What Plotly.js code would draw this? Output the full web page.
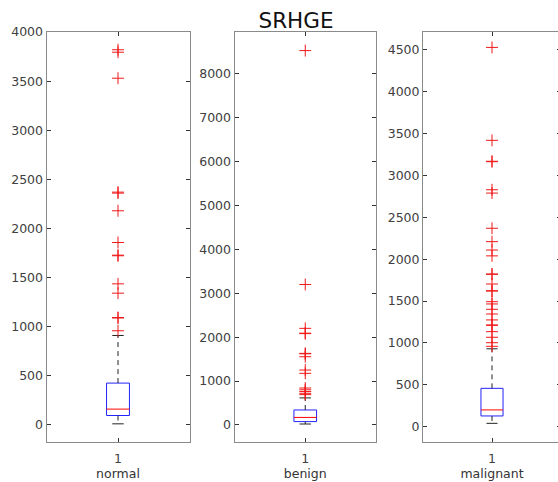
<!DOCTYPE html>
<html>
<head>
<meta charset="utf-8">
<script src="https://cdn.plot.ly/plotly-3.0.1.min.js"></script>
<style>
html,body{margin:0;padding:0;background:#fff;overflow:hidden;}
#chart{width:570px;height:482px;}
</style>
</head>
<body>
<div id="chart"></div>
<script>
// ---- data ----
const categories = ['normal', 'benign', 'malignant'];
const xTickLabels = ['1'];
const q1 = [95, 75, 128];
const medians = [160, 170, 200];
const q3 = [425, 340, 458];
const lowerWhisker = [10, 20, 40];
const upperWhisker = [910, 615, 930];
const outliersNormal = [3820, 3795, 3530, 2370, 2360, 2180, 1857, 1728, 1722, 1436, 1341, 1093, 1088, 958];
const outliersBenign = [8530, 3200, 2200, 2090, 2080, 1630, 1620, 1553, 1250, 1175, 840, 800, 760, 720, 690];
const outliersMalignant = [4530, 3420, 3170, 3165, 2830, 2790, 2370, 2210, 2110, 2040, 1824, 1820, 1704, 1624, 1620,
  1493, 1466, 1402, 1346, 1275, 1215, 1210, 1135, 1068, 1003, 960];
const yTicks = [
  [0, 500, 1000, 1500, 2000, 2500, 3000, 3500, 4000],
  [0, 1000, 2000, 3000, 4000, 5000, 6000, 7000, 8000],
  [0, 500, 1000, 1500, 2000, 2500, 3000, 3500, 4000, 4500]
];
const titleText = 'SRHGE';

// ---- styling / layout ----
const W = 570, H = 482;
const panelsPx = [[46.5, 189.5], [234.5, 376], [423, 561]];
const yRanges = [[-175, 4006], [-390, 8965], [-183, 4720]];
const yDomain = [(H - 442) / H, (H - 31.5) / H];
const outliers = [outliersNormal, outliersBenign, outliersMalignant];
const bw = 0.08, cw = 0.04;
const fontFam = '"DejaVu Sans", "Liberation Sans", Arial, sans-serif';

const traces = [];
const layout = {
  width: W, height: H,
  margin: {l: 0, r: 0, t: 0, b: 0},
  paper_bgcolor: '#fff', plot_bgcolor: '#fff',
  showlegend: false,
  font: {family: fontFam, color: '#404040', size: 12.5},
  title: {
    text: titleText, x: 296 / W, xanchor: 'center', xref: 'paper',
    y: 1 - 20 / H, yanchor: 'middle', yref: 'paper',
    font: {family: fontFam, size: 21.5, color: '#111'}
  }
};

for (let i = 0; i < 3; i++) {
  const sfx = i === 0 ? '' : String(i + 1);
  const xa = 'x' + sfx, ya = 'y' + sfx;
  const c = 1;
  // box
  traces.push({
    type: 'scatter', mode: 'lines', xaxis: xa, yaxis: ya, hoverinfo: 'skip',
    x: [c - bw, c + bw, c + bw, c - bw, c - bw],
    y: [q1[i], q1[i], q3[i], q3[i], q1[i]],
    line: {color: '#2222ff', width: 1}
  });
  // whiskers (dashed)
  traces.push({
    type: 'scatter', mode: 'lines', xaxis: xa, yaxis: ya, hoverinfo: 'skip',
    x: [c, c, null, c, c],
    y: [q3[i], upperWhisker[i], null, q1[i], lowerWhisker[i]],
    line: {color: '#222', width: 1, dash: '5px,4px'}
  });
  // caps
  traces.push({
    type: 'scatter', mode: 'lines', xaxis: xa, yaxis: ya, hoverinfo: 'skip',
    x: [c - cw, c + cw, null, c - cw, c + cw],
    y: [upperWhisker[i], upperWhisker[i], null, lowerWhisker[i], lowerWhisker[i]],
    line: {color: '#222', width: 1}
  });
  // median
  traces.push({
    type: 'scatter', mode: 'lines', xaxis: xa, yaxis: ya, hoverinfo: 'skip',
    x: [c - bw, c + bw],
    y: [medians[i], medians[i]],
    line: {color: '#ff0000', width: 1}
  });
  // outliers
  traces.push({
    type: 'scatter', mode: 'markers', xaxis: xa, yaxis: ya,
    x: outliers[i].map(() => c),
    y: outliers[i],
    marker: {symbol: 'cross-thin-open', size: 8.5, color: '#f01818', line: {color: '#f01818', width: 1}}
  });

  const axCommon = {
    showline: true, linecolor: '#8a8a8a', linewidth: 1,
    mirror: 'ticks', ticks: 'inside', ticklen: 4, tickwidth: 1, tickcolor: '#333',
    showgrid: false, zeroline: false, fixedrange: true,
    tickfont: {family: fontFam, size: 12.5, color: '#404040'}
  };
  layout['xaxis' + sfx] = Object.assign({}, axCommon, {
    domain: [panelsPx[i][0] / W, panelsPx[i][1] / W],
    anchor: ya, range: [0.5, 1.5],
    tickmode: 'array', tickvals: [1], ticktext: xTickLabels,
    ticklabelstandoff: 5,
    title: {text: categories[i], standoff: 4, font: {family: fontFam, size: 12.5, color: '#333'}}
  });
  layout['yaxis' + sfx] = Object.assign({}, axCommon, {
    domain: yDomain, anchor: xa, range: yRanges[i],
    tickmode: 'array', tickvals: yTicks[i], ticktext: yTicks[i].map(String)
  });
}

Plotly.newPlot('chart', traces, layout, {displayModeBar: false, staticPlot: true});
</script>
</body>
</html>
